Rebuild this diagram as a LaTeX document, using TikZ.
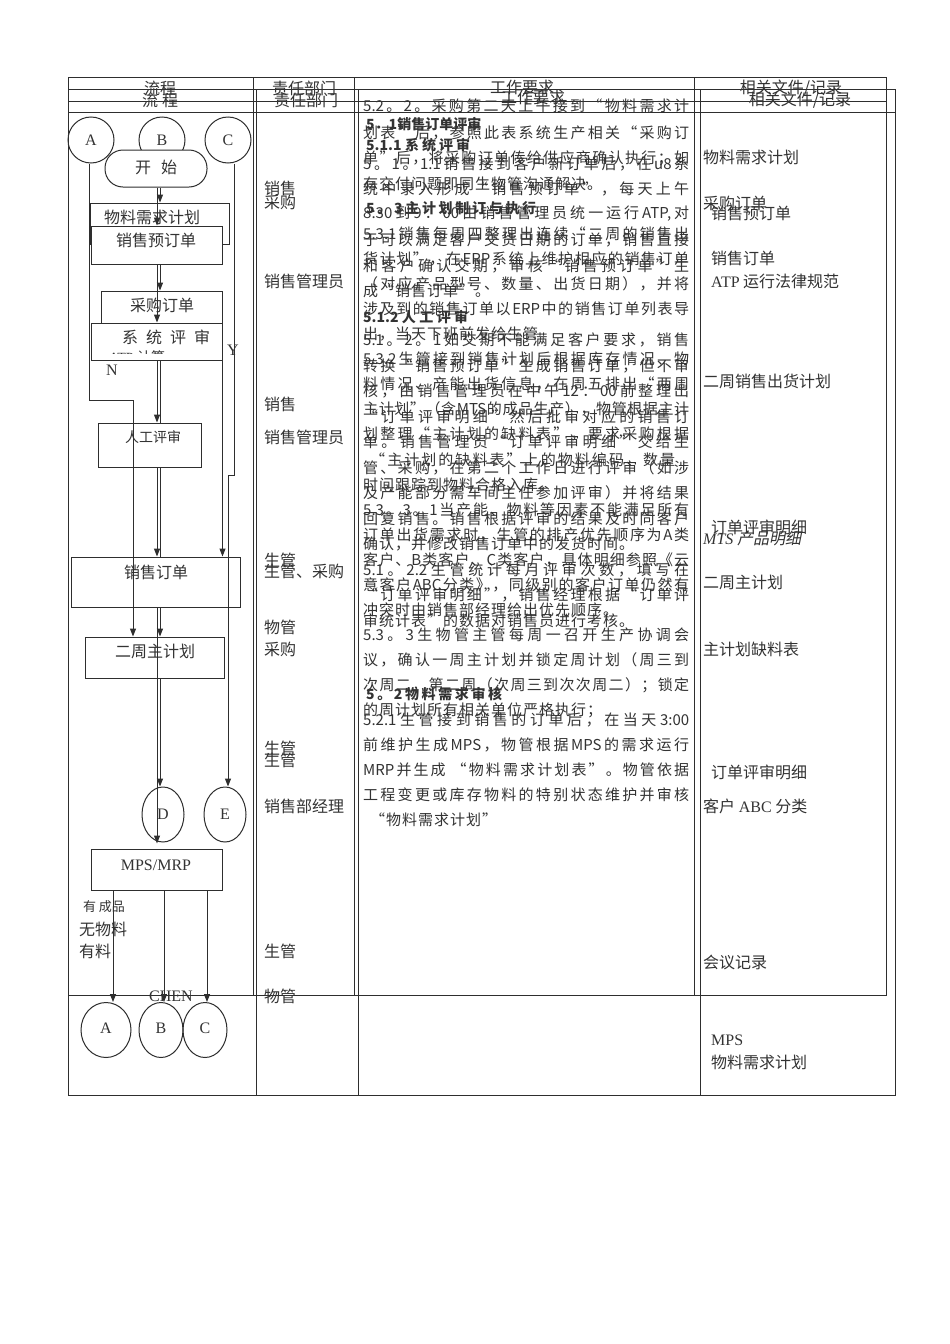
\documentclass[tikz,border=0pt]{standalone}
\usepackage{fontspec}
\setmainfont{Liberation Serif}
\newfontfamily\cjkf[AutoFakeSlant=0.2]{Noto Sans CJK SC}
\usetikzlibrary{shapes.geometric,arrows.meta}
\definecolor{ln}{HTML}{2E2E2E}
\definecolor{txt}{HTML}{333333}
% inter-character glue for the justified text column
\ifdefined\newXeTeXintercharclass
  \newXeTeXintercharclass\mycls
\else
  \chardef\mycls=7
\fi
\count255="3000
\loop
  \XeTeXcharclass\count255=\mycls
  \ifnum\count255<"9FFF \advance\count255 by 1 \repeat
\count255="FF00
\loop
  \XeTeXcharclass\count255=\mycls
  \ifnum\count255<"FFEF \advance\count255 by 1 \repeat
\XeTeXcharclass"201C=\mycls
\XeTeXcharclass"201D=\mycls
\newcommand\midglue{\hskip 1pt plus 8pt minus 1pt\relax}
\XeTeXinterchartoks\mycls\mycls={\midglue}
\XeTeXinterchartoks 0 \mycls={\midglue}
\XeTeXinterchartoks\mycls 0 ={\midglue}
\newcommand\midsk{\XeTeXinterchartokenstate=1\relax}
\newcommand\fl[2]{\makebox[#1pt][s]{#2}}
\begin{document}
\begin{tikzpicture}[x=1pt,y=-1pt,
  tbl/.style={draw=ln, line width=0.8pt},
  box/.style={draw=ln, line width=1pt, rectangle, inner sep=0pt},
  wbox/.style={box, fill=white},
  circ/.style={draw=ln, line width=1pt, ellipse, inner sep=0pt, text=txt, font=\fontsize{16}{16}\selectfont},
  lbl/.style={inner sep=0pt, text=txt, font=\cjkf\fontsize{16}{16}\selectfont},
  llbl/.style={lbl, anchor=west},
  lat/.style={inner sep=0pt, text=txt, font=\fontsize{16}{16}\selectfont},
  mid/.style={anchor=west, inner sep=0pt, text=txt, font=\cjkf\fontsize{15}{15}\selectfont},
  midb/.style={mid, font=\cjkf\bfseries\fontsize{14}{14}\selectfont},
  conn/.style={draw=ln, line width=1pt},
  arr/.style={conn, -{Triangle[length=8pt,width=6pt]}}]
\useasboundingbox (0,0) rectangle (950,1344);
\fill[white] (0,0) rectangle (950,1344);

% ---------- tables ----------
\draw[tbl] (68,77) rectangle (886,995);
\draw[tbl] (68,101) -- (886,101);
\draw[tbl] (253,77) -- (253,995);
\draw[tbl] (354,77) -- (354,995);
\draw[tbl] (694,77) -- (694,995);
\draw[tbl] (68,89) rectangle (895,1095);
\draw[tbl] (68,112) -- (895,112);
\draw[tbl] (256,89) -- (256,1095);
\draw[tbl] (358,89) -- (358,1095);
\draw[tbl] (700,89) -- (700,1095);

% headers
\node[lbl] (h1a) at (160,88) {流程};
\node[lbl] (h1b) at (160,100) {流\hspace{4pt}程};
\node[lbl] (h2a) at (304,88) {责任部门};
\node[lbl] (h2b) at (306,100) {责任部门};
\node[lbl] (h3a) at (522,87) {工作要求};
\node[lbl] (h3b) at (533,97) {工作要求};
\node[lbl] (h4a) at (791,88) {相关文件/记录};
\node[lbl] (h4b) at (800,100) {相关文件/记录};

% ---------- flowchart ----------
\node[circ, minimum width=46pt, minimum height=46pt] (A1) at (91,140) {A};
\node[circ, minimum width=46pt, minimum height=46pt] (B1) at (162,140) {B};
\node[circ, minimum width=46pt, minimum height=46pt] (C1) at (228,140) {C};
\node[box, fill=white, rounded corners=18pt, minimum width=102pt, minimum height=37pt] (start) at (156,168.5) {};
\node[lbl] (startt) at (156,167) {开\hspace{10pt}始};

\node[box, minimum width=139pt, minimum height=41pt] (mrp1) at (159.5,223.5) {};
\node[lbl] (mrp1t) at (152,217) {物料需求计划};
\node[wbox, minimum width=131pt, minimum height=38pt] (spo) at (156.5,245) {};
\node[lbl] (spot) at (156,240) {销售预订单};
\node[box, minimum width=121pt, minimum height=32pt] (po) at (161.5,307) {};
\node[lbl] (pot) at (162,305) {采购订单};
\node[wbox, minimum width=131pt, minimum height=37pt] (sys) at (156.5,341.5) {};
\node[lbl] (syst) at (166,337) {系\hspace{8pt}统\hspace{8pt}评\hspace{8pt}审};
\begin{scope}
  \clip (92,340) rectangle (221,353.5);
  \node[lat, font=\fontsize{14}{14}\selectfont] (atp) at (137,357) {ATP {\cjkf 计算}};
\end{scope}
\node[box, minimum width=103pt, minimum height=44pt] (man) at (149.5,445) {};
\node[lbl, font=\cjkf\fontsize{14}{14}\selectfont] (mant) at (153,437) {人工评审};
\node[box, minimum width=169pt, minimum height=50pt] (so) at (155.5,582) {};
\node[lbl] (sot) at (156,572) {销售订单};
\node[box, minimum width=139pt, minimum height=41pt] (twp) at (154.5,657.5) {};
\node[lbl] (twpt) at (155,651) {二周主计划};
\node[circ, minimum width=42pt, minimum height=55pt] (D) at (163,814.5) {D};
\node[circ, minimum width=42pt, minimum height=55pt] (E) at (225,814.5) {E};
\node[box, minimum width=131pt, minimum height=41pt] (mps) at (156.5,869.5) {};
\node[lat] (mpst) at (156,865) {MPS/MRP};
\node[circ, minimum width=50pt, minimum height=55pt] (A2) at (106,1030) {};
\node[circ, minimum width=44pt, minimum height=55pt] (B2) at (161,1030) {};
\node[circ, minimum width=44pt, minimum height=55pt] (C2) at (205,1030) {};
\node[lat] (A2t) at (106,1028) {A};
\node[lat] (B2t) at (161,1028) {B};
\node[lat] (C2t) at (205,1028) {C};

% guide coordinates
\coordinate (xR) at (160,0);
\coordinate (xL) at (157,0);
\coordinate (aB1) at (89,400);
\coordinate (aB2) at (133,400);
\coordinate (cB1) at (234,475);
\coordinate (cB2) at (228,475);
\coordinate (m1) at (113,0);
\coordinate (m2) at (164,0);
\coordinate (m3) at (207,0);

% connectors, right strand
\draw[arr] (start.south -| xR) -- (mrp1.north -| xR);
\draw[arr] (spo.south -| xR) -- (po.north -| xR);
\draw[conn] (sys.south -| xR) -- (man.north -| xR);
\draw[conn] (man.south -| xR) -- (so.north -| xR);
\draw[arr] (so.south -| xR) -- (twp.north -| xR);
\draw[arr] (twp.south -| xR) -- (D.north -| xR);
% connectors, left strand
\draw[arr] (start.south -| xL) -- (spo.north -| xL);
\draw[arr] (spo.south -| xL) -- (sys.north -| xL);
\draw[arr] (sys.south -| xL) -- (man.north -| xL);
\draw[arr] (man.south -| xL) -- (so.north -| xL);
\draw[arr] (so.south -| xL) -- ([yshift=-1pt]D.south -| xL);
% branches
\draw[arr] (A1.south -| aB1) -- (aB1) -- (aB2) -- (twp.north -| aB2);
\draw[arr] (C1.south -| cB1) -- (cB1) -- (cB2) -- (E.north -| cB2);
\draw[arr] (sys.south east) -- (so.north -| sys.south east);
\draw[arr] (mps.south -| m1) -- (A2.north -| m1);
\draw[arr] (mps.south -| m2) -- (B2.north -| m2);
\draw[arr] (mps.south -| m3) -- (C2.north -| m3);

\node[lat] (N) at (112,370) {N};
\node[lat] (Y) at (233,350) {Y};
\node[lbl, font=\cjkf\fontsize{13}{13}\selectfont] (l1) at (104,907) {有\hspace{3pt}成品};
\node[lbl] (l2) at (103,929) {无物料};
\node[lbl] (l3) at (95,951) {有料};
\node[lat] (chen) at (171,996) {CHEN};

% ---------- responsibility column ----------
\node[llbl] (r1) at (264,188) {销售};
\node[llbl] (r2) at (264,202) {采购};
\node[llbl] (r3) at (264,281) {销售管理员};
\node[llbl] (r4) at (264,404) {销售};
\node[llbl] (r5) at (264,437) {销售管理员};
\node[llbl] (r6) at (264,560) {生管};
\node[llbl] (r7) at (264,571) {生管、采购};
\node[llbl] (r8) at (264,627) {物管};
\node[llbl] (r9) at (264,649) {采购};
\node[llbl] (r10) at (264,748) {生管};
\node[llbl] (r11) at (264,760) {生管};
\node[llbl] (r12) at (264,806) {销售部经理};
\node[llbl] (r13) at (264,951) {生管};
\node[llbl] (r14) at (264,996) {物管};

% ---------- documents column ----------
\node[llbl] (d1) at (703,157) {物料需求计划};
\node[llbl] (d2) at (703,203) {采购订单};
\node[llbl] (d3) at (711,213) {销售预订单};
\node[llbl] (d4) at (711,258) {销售订单};
\node[llbl] (d5) at (711,281) {{\rmfamily ATP} 运行法律规范};
\node[llbl] (d6) at (703,381) {二周销售出货计划};
\node[llbl] (d7) at (711,527) {订单评审明细};
\node[llbl] (d8) at (703,538) {\itshape{\rmfamily\itshape MTS} 产品明细};
\node[llbl] (d9) at (703,582) {二周主计划};
\node[llbl] (d10) at (703,649) {主计划缺料表};
\node[llbl] (d11) at (711,772) {订单评审明细};
\node[llbl] (d12) at (703,806) {客户 {\rmfamily ABC} 分类};
\node[llbl] (d13) at (703,962) {会议记录};
\node[llbl] (d14) at (711,1040) {\rmfamily MPS};
\node[llbl] (d15) at (711,1062) {物料需求计划};

% ---------- work requirements, layer A ----------
\node[mid] (a1) at (363,106.0) {\midsk\fl{326}{5.2。2。采购第二天上午接到“物料需求计}};
\node[mid] (a2) at (363,133.1) {\midsk\fl{326}{划表”后，参照此表系统生产相关“采购订}};
\node[mid] (a3) at (363,158.2) {\midsk\fl{326}{单”后，将采购订单传给供应商确认执行；如}};
\node[mid] (a4) at (363,183.3) {\midsk 有交付问题即同生物管沟通解决。};
\node[midb] (a5) at (366,208.4) {\midsk\fl{170}{5。3主计划制订与执行}};
\node[mid] (a6) at (363,233.5) {\midsk\fl{326}{5.3.1销售每周四整理出连续“二周的销售出}};
\node[mid] (a7) at (363,258.6) {\midsk\fl{326}{货计划”，在ERP系统上维护相应的销售订单}};
\node[mid] (a8) at (363,283.7) {\midsk\fl{326}{（对应产品型号、数量、出货日期），并将}};
\node[mid] (a9) at (363,308.8) {\midsk\fl{326}{涉及到的销售订单以ERP中的销售订单列表导}};
\node[mid] (a10) at (363,333.9) {\midsk 出，当天下班前发给生管};
\node[mid] (a11) at (363,359.0) {\midsk\fl{326}{5.3.2生管接到销售计划后根据库存情况、物}};
\node[mid] (a12) at (363,384.1) {\midsk\fl{326}{料情况、产能出货信息，在周五排出“两周}};
\node[mid] (a13) at (363,409.2) {\midsk\fl{326}{主计划”（含MTS的成品生产），物管根据主计}};
\node[mid] (a14) at (363,434.3) {\midsk\fl{326}{划整理“主计划的缺料表”，要求采购根据}};
\node[mid] (a15) at (370,459.4) {\midsk\fl{305}{“主计划的缺料表”上的物料编码、数量}};
\node[mid] (a16) at (363,484.5) {\midsk 时间跟踪到物料合格入库。};
\node[mid] (a17) at (363,509.6) {\midsk\fl{326}{5.3。3。1当产能、物料等因素不能满足所有}};
\node[mid] (a18) at (363,534.7) {\midsk\fl{326}{订单出货需求时，生管的排产优先顺序为A类}};
\node[mid] (a19) at (363,559.8) {\midsk\fl{326}{客户、B类客户、C类客户，具体明细参照《云}};
\node[mid] (a20) at (363,584.9) {\midsk\fl{326}{意客户ABC分类》，同级别的客户订单仍然有}};
\node[mid] (a21) at (363,610.0) {\midsk 冲突时由销售部经理给出优先顺序。};
\node[mid] (a22) at (363,635.1) {\midsk\fl{326}{5.3。3生物管主管每周一召开生产协调会}};
\node[mid] (a23) at (363,660.2) {\midsk\fl{326}{议，确认一周主计划并锁定周计划（周三到}};
\node[mid] (a24) at (363,685.3) {\midsk\fl{326}{次周二，第二周（次周三到次次周二）；锁定}};
\node[mid] (a25) at (363,710.4) {\midsk 的周计划所有相关单位严格执行；};

% ---------- work requirements, layer B ----------
\node[midb] (b1) at (366,124) {\midsk\fl{112}{5．1销售订单评审}};
\node[midb] (b2) at (366,145) {\midsk\fl{104}{5.1.1 系统评审}};
\node[mid] (b3) at (363,164) {\midsk\fl{326}{5。1。1.1销售接到客户新订单后，在u8系}};
\node[mid] (b4) at (363,189) {\midsk\fl{326}{统中录入形成“销售预订单”，每天上午}};
\node[mid] (b5) at (363,214) {\midsk\fl{326}{8:30到9：00由销售管理员统一运行ATP,对}};
\node[mid] (b6) at (363,240) {\midsk\fl{326}{于可以满足客户交货日期的订单，销售直接}};
\node[mid] (b7) at (363,266) {\midsk\fl{326}{和客户确认交期，审核“销售预订单”生}};
\node[mid] (b8) at (363,291) {\midsk 成“销售订单”。};
\node[midb] (b9) at (363,317) {\midsk\fl{105}{5.1.2人工评审}};
\node[mid] (b10) at (363,340) {\midsk\fl{326}{5.1。2。1如交期不能满足客户要求，销售}};
\node[mid] (b11) at (363,365.5) {\midsk\fl{326}{转换“销售预订单”生成销售订单，但不审}};
\node[mid] (b12) at (363,391) {\midsk\fl{326}{核，由销售管理员在中午12：00前整理出}};
\node[mid] (b13) at (363,416.5) {\midsk\fl{326}{“订单评审明细”然后批审对应的销售订}};
\node[mid] (b14) at (363,442) {\midsk\fl{326}{单。销售管理员“订单评审明细”交给生}};
\node[mid] (b15) at (363,467.5) {\midsk\fl{326}{管、采购，在第二个工作日进行评审（如涉}};
\node[mid] (b16) at (363,493) {\midsk\fl{326}{及产能部分需车间主任参加评审）并将结果}};
\node[mid] (b17) at (363,518.5) {\midsk\fl{326}{回复销售。销售根据评审的结果及时同客户}};
\node[mid] (b18) at (363,544) {\midsk 确认，并修改销售订单中的发货时间。};
\node[mid] (b19) at (363,569.5) {\midsk\fl{326}{5.1。2.2生管统计每月评审次数，填写在}};
\node[mid] (b20) at (363,595) {\midsk\fl{326}{“订单评审明细”，销售经理根据“订单评}};
\node[mid] (b21) at (363,620.5) {\midsk 审统计表”的数据对销售员进行考核。};
\node[midb] (b22) at (366,694) {\midsk\fl{136}{5。2物料需求审核}};
\node[mid] (b23) at (363,720) {\midsk\fl{326}{5.2.1生管接到销售的订单后，在当天3:00}};
\node[mid] (b24) at (363,745) {\midsk\fl{326}{前维护生成MPS，物管根据MPS的需求运行}};
\node[mid] (b25) at (363,770) {\midsk\fl{326}{MRP并生成\hspace{6pt}“物料需求计划表”。物管依据}};
\node[mid] (b26) at (363,795) {\midsk\fl{326}{工程变更或库存物料的特别状态维护并审核}};
\node[mid] (b27) at (370,820) {\midsk “物料需求计划”};
\end{tikzpicture}
\end{document}
